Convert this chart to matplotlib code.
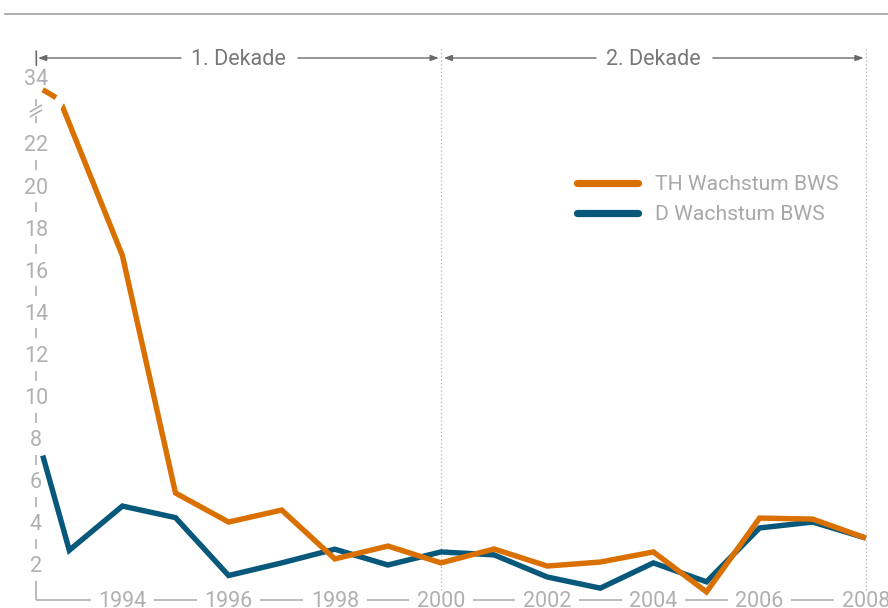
import matplotlib
matplotlib.use("Agg")
import matplotlib.pyplot as plt
import numpy as np

# ---------------- data ----------------
years_d = [1992.5, 1993, 1994, 1995, 1996, 1997, 1998, 1999, 2000,
           2001, 2002, 2003, 2004, 2005, 2006, 2007, 2008]
d_values = [7.2, 2.7, 4.8, 4.25, 1.5, 2.1, 2.75, 2.0, 2.62,
            2.48, 1.43, 0.9, 2.1, 1.2, 3.76, 4.04, 3.28]

years_th = [1992.5, 1992.82, 1994, 1995, 1996, 1997, 1998, 1999, 2000,
            2001, 2002, 2003, 2004, 2005, 2006, 2007, 2008]
th_values = [32.6, 31.4, 16.7, 5.42, 4.04, 4.61, 2.29, 2.9, 2.1,
             2.76, 1.95, 2.14, 2.62, 0.72, 4.23, 4.18, 3.28]

y_ticks = [2, 4, 6, 8, 10, 12, 14, 16, 18, 20, 22, 34]
x_ticks = [1994, 1996, 1998, 2000, 2002, 2004, 2006, 2008]
decades = ["1. Dekade", "2. Dekade"]
decade_bounds = [1992.37, 2000, 2008]
series_labels = ["TH Wachstum BWS", "D Wachstum BWS"]

# ---------------- style ----------------
ORANGE = "#DA7000"
BLUE = "#07587A"
TICK_GRAY = "#b0b0b0"
AXIS_GRAY = "#b0b0b0"
DARK_GRAY = "#6a6a6a"
FONT = "Roboto"

BREAK_LO = 22           # last value drawn on the linear scale
TOP_TICK = 34
TOP_DISP = 25.14        # display position of the 34 label
UPPER_SCALE = 0.4       # compression above the break


def disp(v):
    v = np.asarray(v, dtype=float)
    return np.where(v <= BREAK_LO, v, TOP_DISP + (v - TOP_TICK) * UPPER_SCALE)


W, H = 888, 608
fig = plt.figure(figsize=(W / 100, H / 100), dpi=100)
ax = fig.add_axes([0, 0, 1, 1])
ax.set_xlim(1991.695, 2008.418)
ax.set_ylim(-0.043, 28.84)
ax.axis("off")

x_axis_pos = decade_bounds[0]
y_base = 0.34                    # baseline of the x axis (display units)
tick_fs = 15.5
px_y = (28.84 + 0.043) / H       # one pixel in display y units
px_x = (2008.418 - 1991.695) / W
txt_dy = -2 * px_y               # optical centring of text

# ---------------- y axis (interrupted by labels) ----------------
tick_disp = [float(disp(t)) for t in y_ticks]
for t, d in zip(y_ticks, tick_disp):
    ax.text(x_axis_pos, d + txt_dy, str(t), ha="center", va="center",
            fontsize=tick_fs, color=TICK_GRAY, family=FONT, fontweight="normal")
# segments between labels
for a, b in zip(tick_disp[:-2], tick_disp[1:-1]):
    m = (a + b) / 2
    ax.plot([x_axis_pos, x_axis_pos], [m - 5 * px_y, m + 5 * px_y],
            color=AXIS_GRAY, lw=1.2, solid_capstyle="butt")
# below the lowest label down to the corner
ax.plot([x_axis_pos, x_axis_pos], [y_base, tick_disp[0] - 16 * px_y],
        color=AXIS_GRAY, lw=1.2, solid_capstyle="butt")
# above the top label
ax.plot([x_axis_pos, x_axis_pos], [tick_disp[-1] + 13 * px_y, tick_disp[-1] + 28 * px_y],
        color=AXIS_GRAY, lw=1.2, solid_capstyle="butt")
# break region between 22 and 34
brk = (tick_disp[-2] + tick_disp[-1]) / 2
ax.plot([x_axis_pos, x_axis_pos], [brk + 5 * px_y, brk + 12 * px_y],
        color=AXIS_GRAY, lw=1.2, solid_capstyle="butt")
ax.plot([x_axis_pos, x_axis_pos], [brk - 12 * px_y, brk - 5 * px_y],
        color=AXIS_GRAY, lw=1.2, solid_capstyle="butt")
for off in (-2.5, 2.5):
    ax.plot([x_axis_pos - 6 * px_x, x_axis_pos + 6 * px_x],
            [brk + off * px_y - 3.5 * px_y, brk + off * px_y + 3.5 * px_y],
            color=AXIS_GRAY, lw=1.2, solid_capstyle="butt")

# ---------------- x axis (interrupted by labels) ----------------
gap = 0.6
for yr in x_ticks:
    ax.text(yr, y_base + txt_dy, str(yr), ha="center", va="center",
            fontsize=tick_fs, color=TICK_GRAY, family=FONT, fontweight="normal")
starts = [x_axis_pos] + [yr + gap for yr in x_ticks[:-1]]
ends = [yr - gap for yr in x_ticks]
for s, e in zip(starts, ends):
    ax.plot([s, e], [y_base, y_base], color=AXIS_GRAY, lw=1.2, solid_capstyle="butt")

# ---------------- decade markers ----------------
y_dec = 28.84 - 58 * px_y
for b in decade_bounds[1:]:
    ax.plot([b, b], [y_base + 10 * px_y, y_dec + 10 * px_y], color="#b0b0b0",
            lw=0.9, ls=(0, (1, 2)))
for name, a, b in zip(decades, decade_bounds[:-1], decade_bounds[1:]):
    a2 = a + 0.05 if a != decade_bounds[0] else a + 0.04
    b2 = b - 0.04
    mid = (a + b) / 2
    ax.text(mid, y_dec + txt_dy, name, ha="center", va="center", fontsize=15.5,
            color="#787878", family=FONT, fontweight="normal")
    ax.annotate("", xy=(a2, y_dec), xytext=(mid - 1.08, y_dec),
                arrowprops=dict(arrowstyle="-|>,head_length=0.6,head_width=0.22",
                                color=DARK_GRAY, lw=1.0, shrinkA=0, shrinkB=0,
                                mutation_scale=8))
    ax.annotate("", xy=(b2, y_dec), xytext=(mid + 1.12, y_dec),
                arrowprops=dict(arrowstyle="-|>,head_length=0.6,head_width=0.22",
                                color=DARK_GRAY, lw=1.0, shrinkA=0, shrinkB=0,
                                mutation_scale=8))
ax.plot([x_axis_pos, x_axis_pos], [y_dec - 7 * px_y, y_dec + 7 * px_y],
        color=DARK_GRAY, lw=0.9)

# ---------------- data lines ----------------
ax.plot(years_d, disp(d_values), color=BLUE, lw=3.9, solid_joinstyle="miter",
        solid_capstyle="butt", zorder=3)
ax.plot(years_th, disp(th_values), color=ORANGE, lw=3.9, solid_joinstyle="miter",
        solid_capstyle="butt", zorder=4)
# white gap where the orange line crosses the axis break
kx, ky = years_th[1], float(disp(th_values[1]))
ax.plot([kx - 0.12, kx + 0.06], [ky - 0.55, ky + 0.2], color="white", lw=7,
        solid_capstyle="butt", zorder=5)

# ---------------- legend ----------------
leg_y = [1 - 183 / H, 1 - 213 / H]
for lab, col, yy in zip(series_labels, [ORANGE, BLUE], leg_y):
    ax.plot([577 / W, 638 / W], [yy, yy], transform=ax.transAxes, color=col,
            lw=5.2, solid_capstyle="round")
    ax.text(655 / W, yy - 2 / H, lab, transform=ax.transAxes, ha="left", va="center",
            fontsize=15.2, color="#a8a8a8", family=FONT, fontweight="normal")

# ---------------- top rule ----------------
ax.plot([5 / W, 1], [1 - 14 / H, 1 - 14 / H], transform=ax.transAxes,
        color="#a0a0a0", lw=1.2)

fig.savefig("out.png", dpi=100)
